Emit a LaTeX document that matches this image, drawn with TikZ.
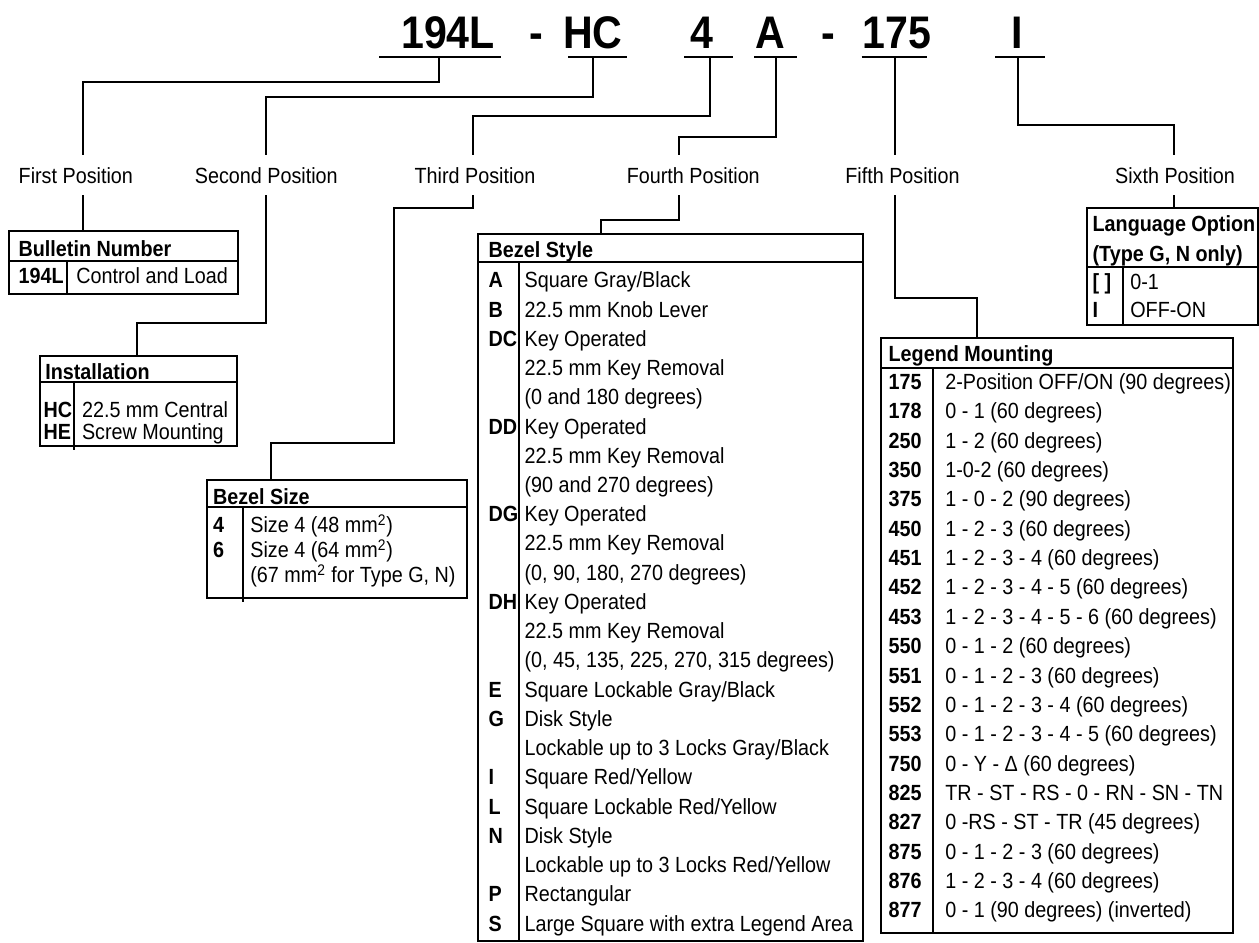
\documentclass[tikz,border=0pt]{standalone}
\usepackage{fontspec}
\setmainfont{Liberation Sans}[FakeStretch=0.9]
\usetikzlibrary{positioning,calc}
\newcommand\tabfont{\fontsize{12.5pt}{15pt}\selectfont}
\tikzset{
  conn/.style={line width=1.1pt},
  frame/.style={line width=1.1pt},
  rule/.style={line width=0.95pt},
  code/.style={font=\fontsize{26pt}{30pt}\selectfont\bfseries,anchor=base,inner sep=0pt},
  poslabel/.style={font=\tabfont,inner sep=0pt,outer ysep=7pt,text height=8.9pt,text depth=0pt},
  cell/.style={font=\tabfont,anchor=west,inner sep=0pt,text height=8.9pt,text depth=0pt},
  key/.style={cell,font=\tabfont\bfseries},
  hdr/.style={cell,font=\tabfont\bfseries}
}
\begin{document}
\begin{tikzpicture}[x=0.02cm,y=-0.02cm]
\useasboundingbox (0,0) rectangle (1259,943);
\node[code] (c1) at (448,48.3) {194L};
\node[code] (d1) at (536,48.3) {-};
\node[code] (c2) at (593,48.3) {HC};
\node[code] (c3) at (701.7,48.3) {4};
\node[code] (c4) at (770,48.3) {A};
\node[code] (d2) at (828,48.3) {-};
\node[code] (c5) at (896.7,48.3) {175};
\node[code] (c6) at (1017.3,48.3) {I};
\foreach \a/\b in {379.3/500.7,568.3/626.7,684/733.3,754.3/796.7,861.7/926.7,995/1045}
  \draw[conn] (\a,56.7) -- (\b,56.7);
\coordinate (u1) at (439,56.7);
\coordinate (u2) at (592.7,56.7);
\coordinate (u3) at (710,56.7);
\coordinate (u4) at (776,56.7);
\coordinate (u5) at (895,56.7);
\coordinate (u6) at (1018.3,56.7);
\node[poslabel] (p1) at (75.8,175.3) {First Position};
\node[poslabel] (p2) at (266.3,175.3) {Second Position};
\node[poslabel] (p3) at (475,175.3) {Third Position};
\node[poslabel] (p4) at (693.3,175.3) {Fourth Position};
\node[poslabel] (p5) at (902.5,175.3) {Fifth Position};
\node[poslabel] (p6) at (1175,175.3) {Sixth Position};
\draw[conn] (u1) |- (82.7,81.7) -- (82.7,0 |- p1.north);
\draw[conn] (u2) |- (265.7,96.7) -- (265.7,0 |- p2.north);
\draw[conn] (u3) |- (473.3,116) -- (473.3,0 |- p3.north);
\draw[conn] (u4) |- (679,136.7) -- (679,0 |- p4.north);
\draw[conn] (u5) -- (895,0 |- p5.north);
\draw[conn] (u6) |- (1174,125) -- (1174,0 |- p6.north);
\coordinate (bn-nw) at (9.3,230.7);   \coordinate (bn-se) at (237.7,294);
\coordinate (in-nw) at (40,356);      \coordinate (in-se) at (236.7,446);
\coordinate (bz-nw) at (206.7,480);   \coordinate (bz-se) at (466.7,597.7);
\coordinate (bs-nw) at (478.3,234);   \coordinate (bs-se) at (862.7,941);
\coordinate (lm-nw) at (880.7,338.3); \coordinate (lm-se) at (1232.7,932.7);
\coordinate (lo-nw) at (1086.7,208.3); \coordinate (lo-se) at (1258,325);
\draw[conn] (82.7,0 |- p1.south) -- (82.7,0 |- bn-nw);
\draw[conn] (265.7,0 |- p2.south) |- (136.7,323.3) -- (136.7,0 |- in-nw);
\draw[conn] (473.3,0 |- p3.south) |- (394.3,207.7) |- (270.7,443.3) -- (270.7,0 |- bz-nw);
\draw[conn] (679,0 |- p4.south) |- (600.7,220) -- (600.7,0 |- bs-nw);
\draw[conn] (895,0 |- p5.south) |- (976.7,298.3) -- (976.7,0 |- lm-nw);
\draw[conn] (1174,0 |- p6.south) -- (1174,0 |- lo-nw);
\draw[frame] (bn-nw) rectangle (bn-se);
\draw[rule] (bn-nw |- 0,261) -- (bn-se |- 0,261);
\draw[rule] (67,261) -- (67,0 |- bn-se);
\node[hdr] (bn-h) at (18.3,248.3) {Bulletin Number};
\node[key] (bn-k1) at (18.3,276) {194L};
\node[cell] (bn-v1) at (76,276) {Control and Load};
\draw[frame] (in-nw) rectangle (in-se);
\draw[rule] (in-nw |- 0,382) -- (in-se |- 0,382);
\draw[rule] (74,382) -- (74,450);
\node[hdr] (in-h) at (45,371.7) {Installation};
\node[key] (in-k1) at (43.3,410) {HC};
\node[key] (in-k2) at (43.3,431.7) {HE};
\node[cell] (in-v1) at (81.7,410) {22.5 mm Central};
\node[cell] (in-v2) at (81.7,431.7) {Screw Mounting};
\draw[frame] (bz-nw) rectangle (bz-se);
\draw[rule] (bz-nw |- 0,506.7) -- (bz-se |- 0,506.7);
\draw[rule] (242.7,506.7) -- (242.7,601.7);
\node[hdr] (bz-h) at (212.7,496.7) {Bezel Size};
\node[key] (bz-k1) at (212.7,525) {4};
\node[key] (bz-k2) at (212.7,550) {6};
\node[cell] (bz-v1) at (250,525) {Size 4 (48 mm\textsuperscript{2})};
\node[cell] (bz-v2) at (250,550) {Size 4 (64 mm\textsuperscript{2})};
\node[cell] (bz-v3) at (250,575) {(67 mm\textsuperscript{2} for Type G, N)};
\draw[frame] (bs-nw) rectangle (bs-se);
\draw[rule] (bs-nw |- 0,262.3) -- (bs-se |- 0,262.3);
\draw[rule] (519,262.3) -- (519,0 |- bs-se);
\node[hdr] (bs-h) at (488.3,250) {Bezel Style};
\foreach \k/\v [count=\i] in {A/{Square Gray/Black},B/{22.5 mm Knob Lever},DC/{Key Operated},
  {}/{22.5 mm Key Removal},{}/{(0 and 180 degrees)},DD/{Key Operated},{}/{22.5 mm Key Removal},
  {}/{(90 and 270 degrees)},DG/{Key Operated},{}/{22.5 mm Key Removal},{}/{(0, 90, 180, 270 degrees)},
  DH/{Key Operated},{}/{22.5 mm Key Removal},{}/{(0, 45, 135, 225, 270, 315 degrees)},
  E/{Square Lockable Gray/Black},G/{Disk Style},{}/{Lockable up to 3 Locks Gray/Black},
  I/{Square Red/Yellow},L/{Square Lockable Red/Yellow},N/{Disk Style},
  {}/{Lockable up to 3 Locks Red/Yellow},P/{Rectangular},S/{Large Square with extra Legend Area}}{
  \node[key] (bs-k\i) at (488.3,{280+(\i-1)*29.24}) {\k};
  \node[cell] (bs-v\i) at (524.3,{280+(\i-1)*29.24}) {\v};
}
\draw[frame] (lm-nw) rectangle (lm-se);
\draw[rule] (lm-nw |- 0,367.7) -- (lm-se |- 0,367.7);
\draw[rule] (933.3,367.7) -- (933.3,0 |- lm-se);
\node[hdr] (lm-h) at (888.3,353.3) {Legend Mounting};
\foreach \k/\v [count=\i] in {175/{2-Position OFF/ON (90 degrees)},178/{0 - 1 (60 degrees)},
  250/{1 - 2 (60 degrees)},350/{1-0-2 (60 degrees)},375/{1 - 0 - 2 (90 degrees)},
  450/{1 - 2 - 3 (60 degrees)},451/{1 - 2 - 3 - 4 (60 degrees)},452/{1 - 2 - 3 - 4 - 5 (60 degrees)},
  453/{1 - 2 - 3 - 4 - 5 - 6 (60 degrees)},550/{0 - 1 - 2 (60 degrees)},551/{0 - 1 - 2 - 3 (60 degrees)},
  552/{0 - 1 - 2 - 3 - 4 (60 degrees)},553/{0 - 1 - 2 - 3 - 4 - 5 (60 degrees)},
  750/{0 - Y - Δ (60 degrees)},825/{TR - ST - RS - 0 - RN - SN - TN},827/{0 -RS - ST - TR (45 degrees)},
  875/{0 - 1 - 2 - 3 (60 degrees)},876/{1 - 2 - 3 - 4 (60 degrees)},877/{0 - 1 (90 degrees) (inverted)}}{
  \node[key] (lm-k\i) at (888.3,{381.7+(\i-1)*29.35}) {\k};
  \node[cell] (lm-v\i) at (945,{381.7+(\i-1)*29.35}) {\v};
}
\draw[frame] (lo-nw) rectangle (lo-se);
\draw[rule] (lo-nw |- 0,267.3) -- (lo-se |- 0,267.3);
\draw[rule] (1123.3,267.3) -- (1123.3,0 |- lo-se);
\node[hdr] (lo-h1) at (1092.3,223.3) {Language Option};
\node[hdr] (lo-h2) at (1092.3,253.3) {(Type G, N only)};
\node[key] (lo-k1) at (1092.3,281.7) {[ ]};
\node[key] (lo-k2) at (1092.3,310) {I};
\node[cell] (lo-v1) at (1130,281.7) {0-1};
\node[cell] (lo-v2) at (1130,310) {OFF-ON};
\end{tikzpicture}
\end{document}
